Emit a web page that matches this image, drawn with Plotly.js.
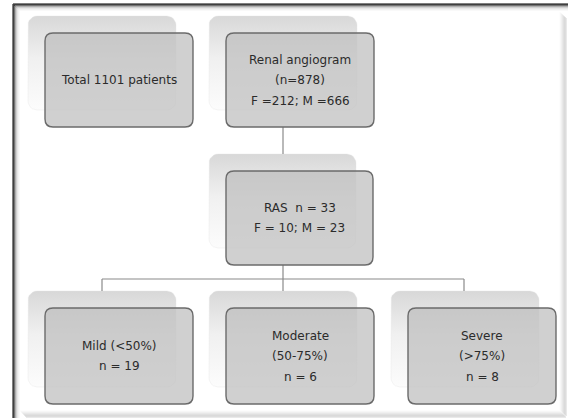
<!DOCTYPE html>
<html>
<head>
<meta charset="utf-8">
<script src="https://cdn.plot.ly/plotly-3.0.1.min.js"></script>
<style>html,body{margin:0;padding:0;background:#fff;}#chart{width:568px;height:418px;}</style>
</head>
<body>
<div id="chart"></div>
<script>
// ---- Chart content (flowchart labels / values) ----
const boxIds = ["total", "angiogram", "ras", "mild", "moderate", "severe"];
const totalLines = ["Total 1101 patients"];
const angiogramLines = ["Renal angiogram", "(n=878)", "F =212; M =666"];
const rasLines = ["RAS  n = 33", "F = 10; M = 23"];
const mildLines = ["Mild (<50%)", "n = 19"];
const moderateLines = ["Moderate", "(50-75%)", "n = 6"];
const severeLines = ["Severe", "(>75%)", "n = 8"];
const boxLines = [totalLines, angiogramLines, rasLines, mildLines, moderateLines, severeLines];

// ---- Layout geometry (pixel space of the 568x418 canvas) ----
const W = 568, H = 418;
const geom = {
  total:     [45, 33, 193, 127],
  angiogram: [226, 33, 374, 127],
  ras:       [226, 171, 373, 265],
  mild:      [45, 308, 193, 404],
  moderate:  [226, 308, 374, 404],
  severe:    [408, 308, 556, 404]
};
const backOff = [-17, -17];
const lineGap = 20.5;

function roundRectPath(x0, y0, x1, y1, r) {
  return `M${x0 + r},${y0} L${x1 - r},${y0} Q${x1},${y0} ${x1},${y0 + r} L${x1},${y1 - r} Q${x1},${y1} ${x1 - r},${y1} L${x0 + r},${y1} Q${x0},${y1} ${x0},${y1 - r} L${x0},${y0 + r} Q${x0},${y0} ${x0 + r},${y0} Z`;
}
function roundRectPts(x0, y0, x1, y1, r) {
  const xs = [], ys = [];
  const corners = [[x1 - r, y0 + r, -90], [x1 - r, y1 - r, 0], [x0 + r, y1 - r, 90], [x0 + r, y0 + r, 180]];
  corners.forEach(([cx, cy, a0]) => {
    for (let k = 0; k <= 6; k++) {
      const a = (a0 + k * 15) * Math.PI / 180;
      xs.push(cx + r * Math.cos(a));
      ys.push(cy + r * Math.sin(a));
    }
  });
  xs.push(xs[0]); ys.push(ys[0]);
  return [xs, ys];
}

const traces = [];
const shapes = [];
const annotations = [];

// frame shadow (inner gradient along left/top, outer along right/bottom)
const shadeL = ["#000000", "#000000", "#6a6a6a", "#a8a8a8", "#cfcfcf", "#e6e6e6", "#f3f3f3"];
shadeL.forEach((c, i) => {
  shapes.push({type: "line", xref: "x", yref: "y", x0: 13 + i, y0: 4 + i, x1: 13 + i, y1: H, line: {color: c, width: 1}});
  shapes.push({type: "line", xref: "x", yref: "y", x0: 13 + i, y0: 4 + i, x1: W, y1: 4 + i, line: {color: c, width: 1}});
});
const shadeR = ["#fafafa", "#f2f2f2", "#e8e8e8", "#dddddd", "#d2d2d2", "#cccccc", "#d4d4d4"];
shadeR.forEach((c, i) => {
  shapes.push({type: "line", xref: "x", yref: "y", x0: 560 + i, y0: 12 + i, x1: 560 + i, y1: 410 + i, line: {color: c, width: 1}});
  shapes.push({type: "line", xref: "x", yref: "y", x0: 20 + i, y0: 411 + i, x1: 560 + i, y1: 411 + i, line: {color: c, width: 1}});
});

// back (shadow) boxes as gradient-filled traces
boxIds.forEach(id => {
  const [x0, y0, x1, y1] = geom[id];
  const [xs, ys] = roundRectPts(x0 + backOff[0], y0 + backOff[1], x1 + backOff[0], y1 + backOff[1], 9);
  traces.push({
    type: "scatter", mode: "lines", x: xs, y: ys, fill: "toself",
    line: {color: "rgba(228,228,228,0.6)", width: 0.6},
    fillgradient: {type: "vertical", colorscale: [[0, "#fcfcfc"], [0.55, "#f0f0f0"], [1, "#d8d8d8"]]},
    hoverinfo: "skip", showlegend: false
  });
});

// connectors
const lc = {color: "#8a8a8a", width: 1.2};
const cx = 283;
shapes.push({type: "line", xref: "x", yref: "y", x0: cx, y0: geom.angiogram[3], x1: cx, y1: geom.ras[1] + backOff[1], line: lc});
shapes.push({type: "line", xref: "x", yref: "y", x0: cx, y0: geom.ras[3], x1: cx, y1: 279, line: lc});
shapes.push({type: "line", xref: "x", yref: "y", x0: 102, y0: 279, x1: 464, y1: 279, line: lc});
[102, cx, 464].forEach(x => {
  shapes.push({type: "line", xref: "x", yref: "y", x0: x, y0: 279, x1: x, y1: geom.mild[1] + backOff[1], line: lc});
});

// front boxes
boxIds.forEach(id => {
  const [x0, y0, x1, y1] = geom[id];
  shapes.push({type: "path", xref: "x", yref: "y", path: roundRectPath(x0, y0, x1, y1, 8),
    fillcolor: "rgba(188,188,188,0.7)", line: {color: "#6b6b6b", width: 1.4}});
});

// texts
boxIds.forEach((id, bi) => {
  const [x0, y0, x1, y1] = geom[id];
  const lines = boxLines[bi];
  const xc = (x0 + x1) / 2, yc = (y0 + y1) / 2;
  lines.forEach((t, i) => {
    annotations.push({
      xref: "x", yref: "y", x: xc, y: yc + (i - (lines.length - 1) / 2) * lineGap,
      text: t.replace(/</g, "&lt;").replace(/>/g, "&gt;"), showarrow: false,
      xanchor: "center", yanchor: "middle",
      font: {family: "DejaVu Sans, Verdana, sans-serif", size: 12, color: "#2b2b2b"}
    });
  });
});

const layout = {
  width: W, height: H,
  margin: {l: 0, r: 0, t: 0, b: 0},
  paper_bgcolor: "#ffffff", plot_bgcolor: "#ffffff",
  xaxis: {range: [0, W], visible: false, fixedrange: true},
  yaxis: {range: [H, 0], visible: false, fixedrange: true},
  shapes: shapes, annotations: annotations, showlegend: false
};
Plotly.newPlot("chart", traces, layout, {staticPlot: true, displayModeBar: false});
</script>
</body>
</html>
